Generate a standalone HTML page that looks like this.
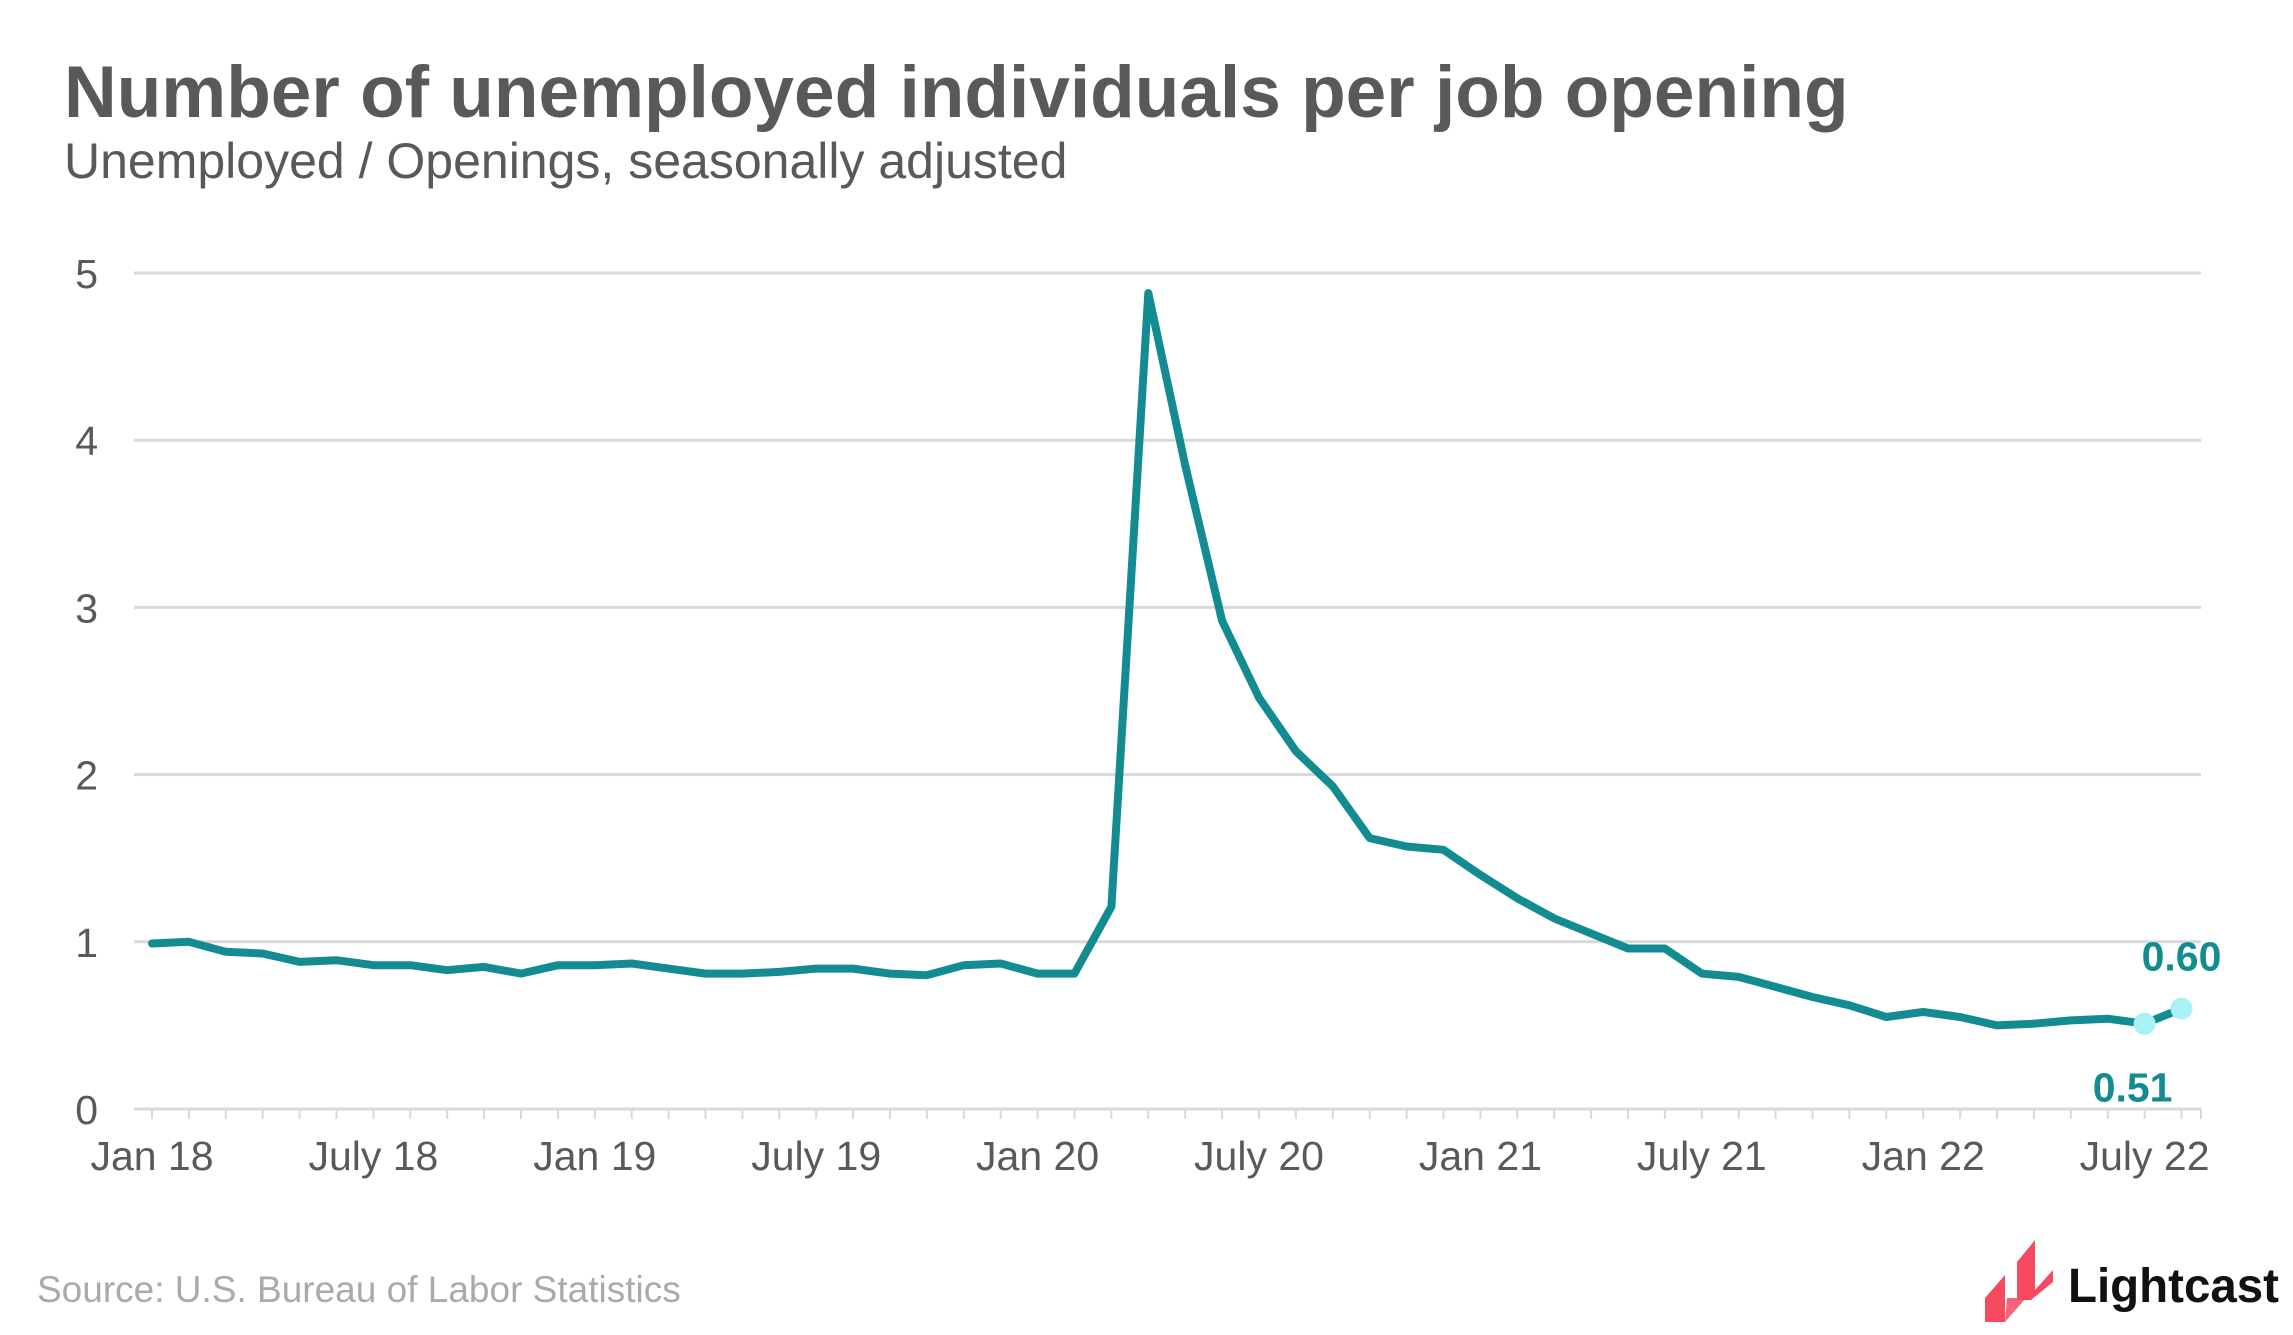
<!DOCTYPE html>
<html><head><meta charset="utf-8"><style>
body{margin:0;background:#fff;}
svg{display:block;font-family:"Liberation Sans",Arial,sans-serif;}
</style></head><body>
<svg width="2293" height="1335" viewBox="0 0 2293 1335" id="c">
<text x="64" y="117" font-size="73" font-weight="bold" fill="#595959">Number of unemployed individuals per job opening</text>
<text x="64" y="178" font-size="50" fill="#595959">Unemployed / Openings, seasonally adjusted</text>
<g id="grid"></g>
<g id="xax"></g>
<g id="yax"></g>
<g id="plot"></g>
<text x="37" y="1302" font-size="37" fill="#aaaaaa">Source:  U.S. Bureau of Labor Statistics</text>
<g>
<polygon points="1985,1298 2005,1275 2005,1322 1985,1322" fill="#f54a5f"/>
<polygon points="2007,1298 2026,1298 2005,1322" fill="#f54a5f" opacity="0.85"/>
<polygon points="2017,1262 2035,1240 2035,1290 2053,1270 2053,1282 2031,1300 2017,1300" fill="#f54a5f"/>
<text x="2068" y="1302" font-size="48" font-weight="bold" fill="#111" textLength="211" lengthAdjust="spacingAndGlyphs">Lightcast</text>
</g>
</svg>
<script>
const months = ["Jan 18","","","","","","July 18","","","","","","Jan 19","","","","","","July 19","","","","","","Jan 20","","","","","","July 20","","","","","","Jan 21","","","","","","July 21","","","","","","Jan 22","","","","","","July 22",""];
const ratio = [0.99,1.00,0.94,0.93,0.88,0.89,0.86,0.86,0.83,0.85,0.81,0.86,
0.86,0.87,0.84,0.81,0.81,0.82,0.84,0.84,0.81,0.80,0.86,0.87,
0.81,0.81,1.21,4.88,3.85,2.92,2.46,2.14,1.93,1.62,1.57,1.55,
1.40,1.26,1.14,1.05,0.96,0.96,0.81,0.79,0.73,0.67,0.62,0.55,
0.58,0.55,0.50,0.51,0.53,0.54,0.51,0.60];
const yTicks = [0,1,2,3,4,5];
const labelIdx = [54,55];
const labelText = ["0.51","0.60"];

const NS="http://www.w3.org/2000/svg";
const x0=152, dx=36.9, y0=1109, dy=167.2, gx0=134, gx1=2201;
const X=i=>x0+i*dx, Y=v=>y0-v*dy;
function mk(tag,attrs,parent){const e=document.createElementNS(NS,tag);for(const k in attrs)e.setAttribute(k,attrs[k]);parent.appendChild(e);return e;}
const grid=document.getElementById('grid'),xax=document.getElementById('xax'),yax=document.getElementById('yax'),plot=document.getElementById('plot');
yTicks.forEach(t=>{
  const l=mk('line',{x1:gx0,x2:gx1,y1:Y(t),y2:Y(t),stroke:'#d9d9d9','stroke-width':3},grid);
  
  
  const tx=mk('text',{x:98,y:Y(t)+15,'font-size':41,fill:'#595959','text-anchor':'end'},yax);
  tx.textContent=t;
  
  
});
months.forEach((m,i)=>{
  const tk=mk('line',{x1:X(i),x2:X(i),y1:y0,y2:y0+10,stroke:'#d9d9d9','stroke-width':2},xax);
  
  
  if(m){const t=mk('text',{x:X(i),y:1170,'font-size':41,fill:'#595959','text-anchor':'middle'},xax);
  t.textContent=m;
  
  }
});
const endTk=mk('line',{x1:gx1,x2:gx1,y1:y0,y2:y0+10,stroke:'#d9d9d9','stroke-width':2},xax);


const d=ratio.map((v,i)=>(i?'L':'M')+X(i).toFixed(1)+','+Y(v).toFixed(1)).join(' ');
const p=mk('path',{d:d,fill:'none',stroke:'#128c91','stroke-width':8,'stroke-linejoin':'round','stroke-linecap':'round'},plot);


labelIdx.forEach((idx,k)=>{
  const c=mk('circle',{cx:X(idx),cy:Y(ratio[idx]),r:11,fill:'#a8f2f7'},plot);
  
  
  const above=k===1;
  const t=mk('text',{x:above?X(idx):X(idx)-12,y:above?Y(ratio[idx])-38:Y(ratio[idx])+78,'font-size':41,'font-weight':'bold',fill:'#128c91','text-anchor':'middle'},plot);
  t.textContent=labelText[k];
  
  
});
</script>
</body></html>
